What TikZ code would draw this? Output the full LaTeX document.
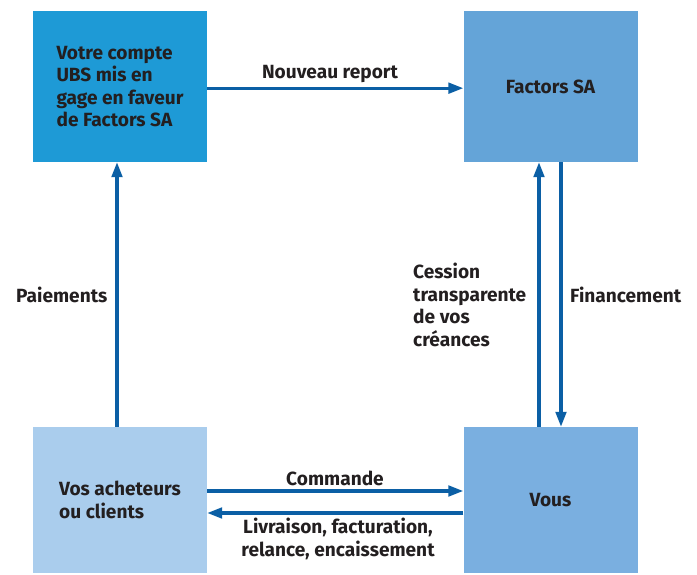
\documentclass[tikz,border=0pt]{standalone}
\usepackage{fontspec}
\setmainfont{Fira Sans}
\usetikzlibrary{arrows.meta}
\definecolor{ubsdeep}{RGB}{30,154,214}
\definecolor{ubsmid}{RGB}{100,164,216}
\definecolor{ubslight}{RGB}{170,205,237}
\definecolor{ubssoft}{RGB}{122,175,224}
\definecolor{ubsarrow}{RGB}{11,95,165}
\definecolor{ubstext}{RGB}{35,31,32}
\tikzset{party/.style={minimum width=5.22cm, minimum height=4.53cm, inner sep=0pt, align=left, text=ubstext, font=\bfseries\fontsize{16.3}{19.3}\selectfont}}
\tikzset{flow/.style={line width=2.6pt, color=ubsarrow, -{Triangle[length=0.45cm, width=0.32cm]}}}
\tikzset{lbl/.style={text=ubstext, font=\bfseries\fontsize{16.3}{19.3}\selectfont, inner sep=0pt}}

\begin{document}
\begin{tikzpicture}[x=0.03cm, y=-0.03cm]
        \useasboundingbox (0,0) rectangle (697,574);
        \node[party, fill=ubsdeep] (Acct) at (120, 86.5) {Votre compte\\UBS mis en\\gage en faveur\\de Factors SA};
        \node[party, fill=ubsmid] (Factors) at (550.5, 86.5) {Factors SA};
        \node[party, fill=ubslight, minimum height=4.38cm] (Buyers) at (120, 500) {Vos acheteurs\\ou clients};
        \node[party, fill=ubssoft, minimum height=4.38cm] (You) at (550.5, 500) {Vous};

        \draw [flow] ([yshift=-0.05cm]Acct.east) -- ([yshift=-0.05cm]Factors.west);
        \draw [flow] ([xshift=-0.09cm]Buyers.north) -- ([xshift=-0.09cm]Acct.south);
        \draw [flow] ([xshift=-0.345cm]You.north) -- ([xshift=-0.345cm]Factors.south);
        \draw [flow] ([xshift=0.315cm]Factors.south) -- ([xshift=0.315cm]You.north);
        \draw [flow] ([yshift=0.27cm]Buyers.east) -- ([yshift=0.27cm]You.west);
        \draw [flow] ([yshift=-0.39cm]You.west) -- ([yshift=-0.39cm]Buyers.east);

        \node[lbl] (LReport) at (330, 74) {Nouveau report};
        \node[lbl, anchor=west] (LPay) at (16, 295) {Paiements};
        \node[lbl, anchor=north west, align=left] (LCession) at (413, 263) {Cession\\transparente\\de vos\\créances};
        \node[lbl, anchor=west] (LFin) at (570, 295) {Financement};
        \node[lbl] (LOrder) at (335, 478) {Commande};
        \node[lbl, align=center] (LDeliv) at (338, 539) {Livraison, facturation,\\relance, encaissement};

    \end{tikzpicture}
\end{document}
